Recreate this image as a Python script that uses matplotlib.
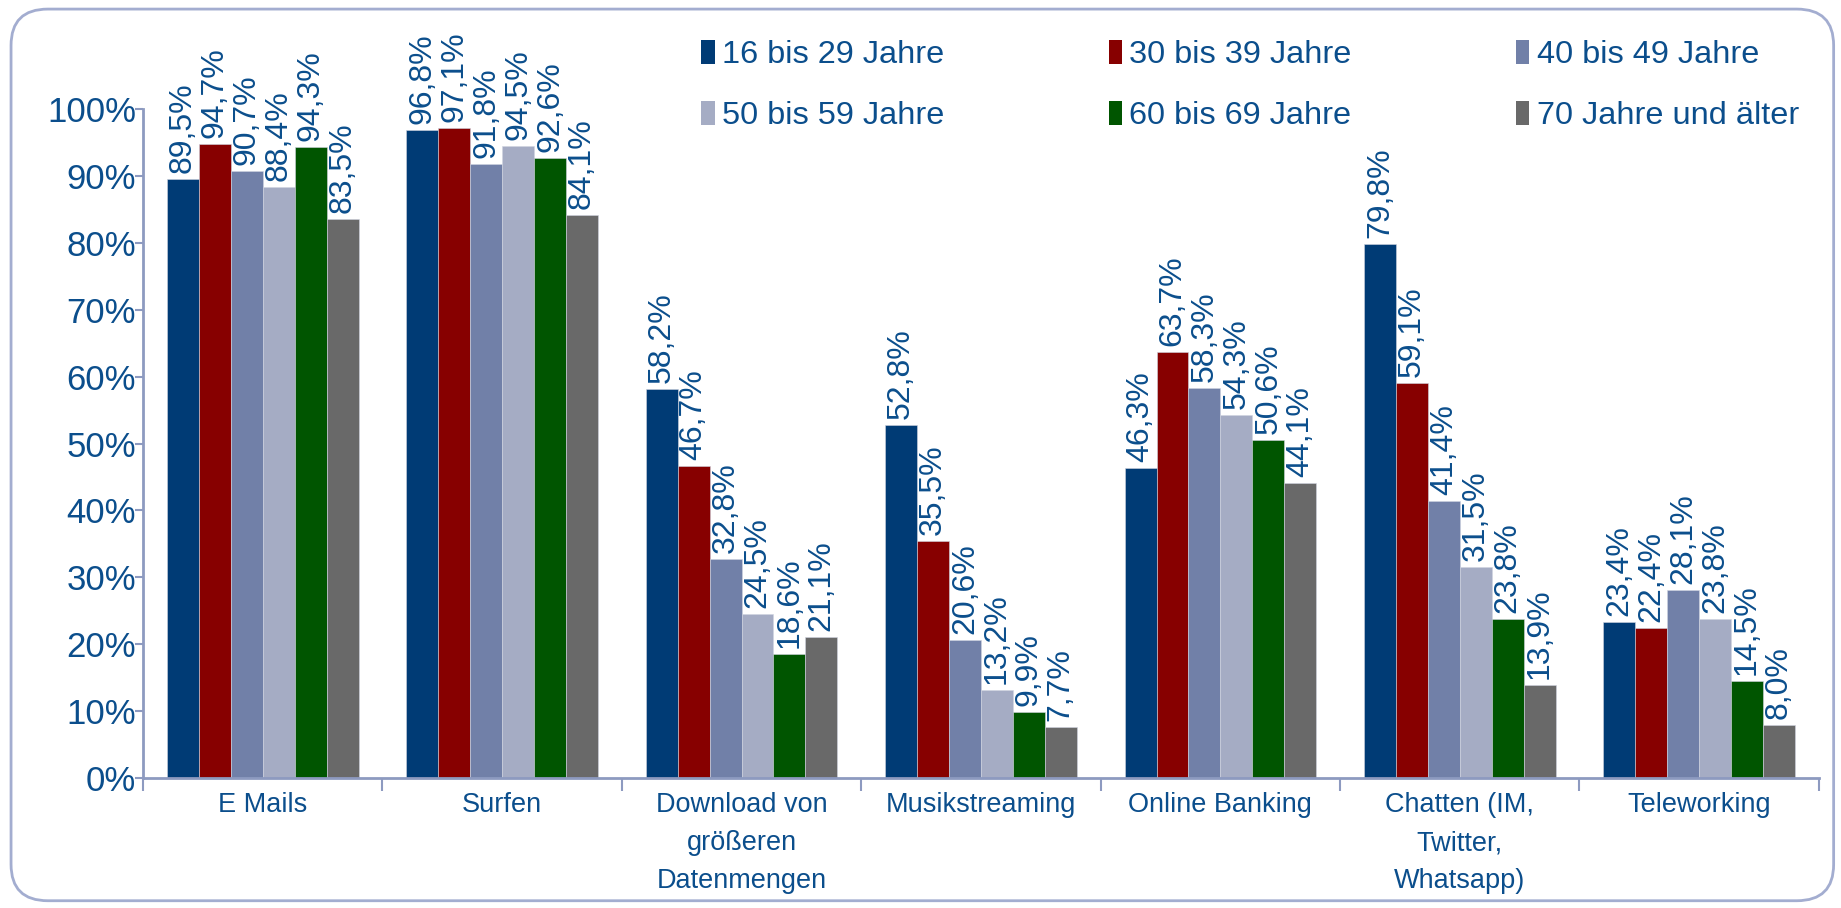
import numpy as np
import matplotlib
matplotlib.use("Agg")
import matplotlib.pyplot as plt
from matplotlib.patches import FancyBboxPatch, Patch

plt.rcParams['font.family'] = ['Liberation Sans', 'DejaVu Sans']

# Data
categories = ['E Mails', 'Surfen', 'Download von\ngrößeren\nDatenmengen', 'Musikstreaming',
              'Online Banking', 'Chatten (IM,\nTwitter,\nWhatsapp)', 'Teleworking']
groups = ['16 bis 29 Jahre', '30 bis 39 Jahre', '40 bis 49 Jahre',
          '50 bis 59 Jahre', '60 bis 69 Jahre', '70 Jahre und älter']
age_16_29 = [89.5, 96.8, 58.2, 52.8, 46.3, 79.8, 23.4]
age_30_39 = [94.7, 97.1, 46.7, 35.5, 63.7, 59.1, 22.4]
age_40_49 = [90.7, 91.8, 32.8, 20.6, 58.3, 41.4, 28.1]
age_50_59 = [88.4, 94.5, 24.5, 13.2, 54.3, 31.5, 23.8]
age_60_69 = [94.3, 92.6, 18.6, 9.9, 50.6, 23.8, 14.5]
age_70 = [83.5, 84.1, 21.1, 7.7, 44.1, 13.9, 8.0]
series = [age_16_29, age_30_39, age_40_49, age_50_59, age_60_69, age_70]
colors = ['#003B75', '#870000', '#7180A8', '#A5ACC4', '#005500', '#696969']

text_color = '#0B4E8C'
axis_color = '#8D9AC0'

fig = plt.figure(figsize=(18.41, 9.08), dpi=100)
ax = fig.add_axes([0.0777, 0.143, 0.9103, 0.737])

x = np.arange(len(categories))
n = len(series)
width = 0.8 / n
for i, (vals, col) in enumerate(zip(series, colors)):
    pos = x - 0.4 + width * (i + 0.5)
    ax.bar(pos, vals, width=width, color=col, edgecolor='#D0D4E0', linewidth=0.4)
    for px, v in zip(pos, vals):
        ax.text(px, v + 0.9, f"{v:.1f}%".replace('.', ','), rotation=90,
                ha='center', va='bottom', fontsize=23, color=text_color, clip_on=False)

ax.set_xlim(-0.5, len(categories) - 0.5)
ax.set_ylim(0, 100)
ax.set_yticks(np.arange(0, 101, 10))
ax.set_yticklabels([f"{t}%" for t in range(0, 101, 10)])
ax.tick_params(axis='y', colors=axis_color, labelcolor=text_color, labelsize=25,
               length=6, width=1.5, pad=-1)

ax.set_xticks(x)
ax.set_xticklabels(categories, linespacing=1.6)
ax.tick_params(axis='x', which='major', length=0, labelsize=19.5, labelcolor=text_color, pad=10)
ax.set_xticks(np.arange(-0.5, len(categories), 1), minor=True)
ax.tick_params(axis='x', which='minor', length=9, width=1.5, colors=axis_color)

for s in ['top', 'right']:
    ax.spines[s].set_visible(False)
for s in ['left', 'bottom']:
    ax.spines[s].set_color(axis_color)
    ax.spines[s].set_linewidth(2)

# Legend, row-wise order across three columns
handles = [Patch(facecolor=c) for c in colors]
order = [0, 3, 1, 4, 2, 5]
leg = fig.legend([handles[i] for i in order], [groups[i] for i in order],
                 ncol=3, loc='upper left', bbox_to_anchor=(0.365, 0.988),
                 frameon=False, fontsize=23.4, handlelength=0.42, handleheight=0.75,
                 handletextpad=0.22, columnspacing=5.05, labelspacing=0.94)
for t in leg.get_texts():
    t.set_color(text_color)

# Rounded frame around the chart
frame = FancyBboxPatch((0.006, 0.008), 0.99, 0.982, boxstyle='round,pad=0,rounding_size=0.02',
                       transform=fig.transFigure, fill=False, edgecolor='#A3ADD0',
                       linewidth=2, mutation_aspect=2)
fig.patches.append(frame)

fig.savefig('out.png', dpi=100)
